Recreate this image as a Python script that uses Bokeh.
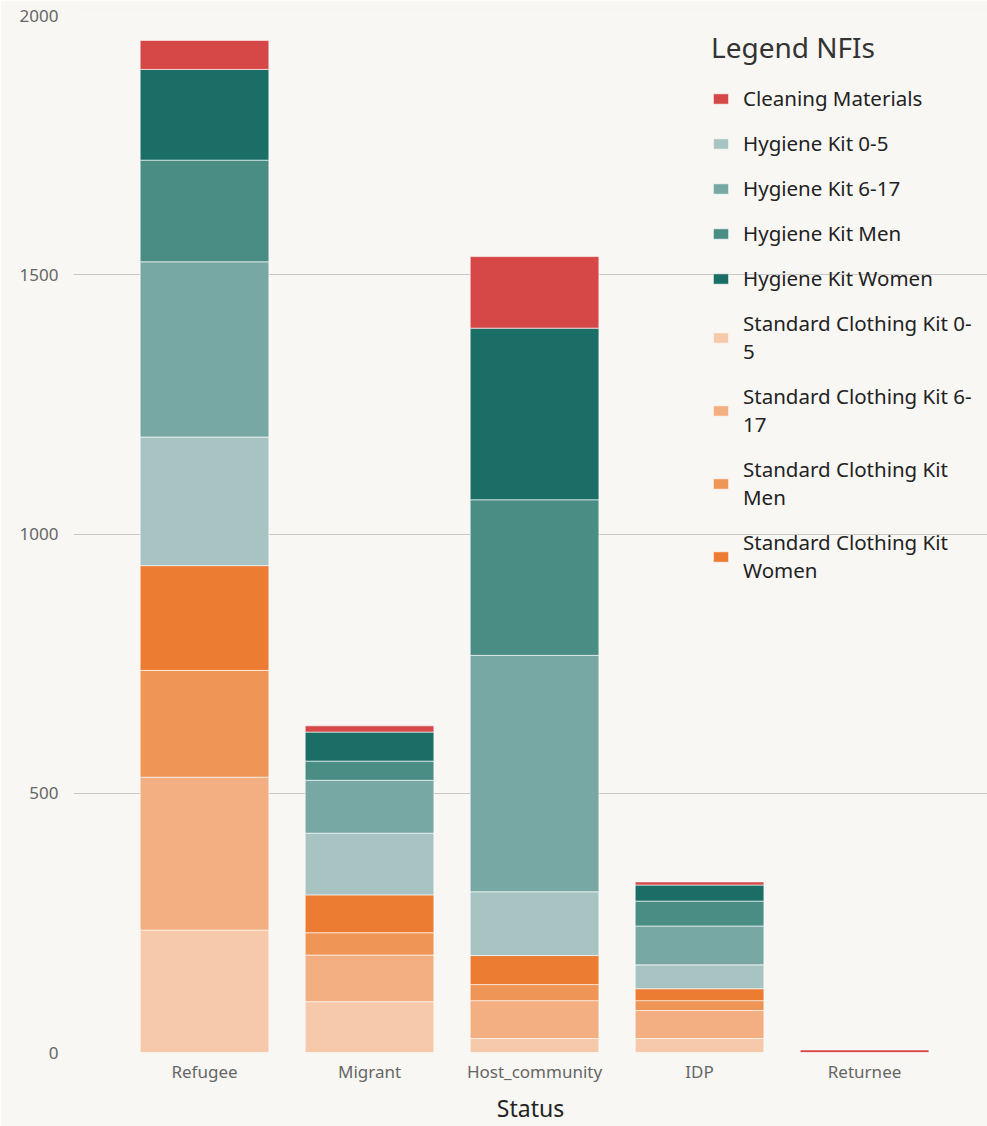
from bokeh.plotting import figure
from bokeh.models import Range1d, FixedTicker, Legend, LegendItem, ColumnDataSource
from bokeh.embed import file_html
from bokeh.resources import INLINE

# ---- data ----
statuses = ["Refugee", "Migrant", "Host_community", "IDP", "Returnee"]
sck_0_5 = [236, 98, 27, 27, 0]
sck_6_17 = [295, 90, 73, 54, 0]
sck_men = [206, 43, 31, 19, 0]
sck_women = [202, 73, 56, 23, 0]
hk_0_5 = [248, 119, 123, 46, 0]
hk_6_17 = [338, 102, 456, 75, 0]
hk_men = [196, 37, 300, 48, 0]
hk_women = [175, 56, 331, 31, 0]
cleaning = [56, 12, 138, 6, 5]

# stacking order bottom -> top
stack_keys = ["sck_0_5", "sck_6_17", "sck_men", "sck_women",
              "hk_0_5", "hk_6_17", "hk_men", "hk_women", "cleaning"]
stack_labels = ["Standard Clothing Kit 0-\n5", "Standard Clothing Kit 6-\n17",
                "Standard Clothing Kit\nMen", "Standard Clothing Kit\nWomen",
                "Hygiene Kit 0-5", "Hygiene Kit 6-17", "Hygiene Kit Men",
                "Hygiene Kit Women", "Cleaning Materials"]
stack_colors = ["#f7c9ab", "#f3ae82", "#ef9657", "#ec7c32",
                "#a7c4c2", "#78a8a3", "#4a8d85", "#1b6e66", "#d64848"]
legend_order = ["cleaning", "hk_0_5", "hk_6_17", "hk_men", "hk_women",
                "sck_0_5", "sck_6_17", "sck_men", "sck_women"]
y_ticks = [0, 500, 1000, 1500, 2000]

src = ColumnDataSource(dict(
    x=list(range(len(statuses))),
    sck_0_5=sck_0_5, sck_6_17=sck_6_17, sck_men=sck_men, sck_women=sck_women,
    hk_0_5=hk_0_5, hk_6_17=hk_6_17, hk_men=hk_men, hk_women=hk_women,
    cleaning=cleaning,
))

BG = "#f8f7f4"
FONT = "Noto Sans"

p = figure(width=987, height=1126, output_backend="svg", toolbar_location=None,
           x_range=Range1d(-0.794, 4.745), y_range=Range1d(0, 2000),
           min_border_left=73, min_border_right=0, min_border_top=15, min_border_bottom=10)
p.background_fill_color = BG
p.border_fill_color = BG
p.outline_line_color = None

renderers = p.vbar_stack(stack_keys, x="x", width=0.78, source=src,
                         color=stack_colors, line_color="white", line_alpha=0.6, line_width=1)
rmap = dict(zip(stack_keys, renderers))
lmap = dict(zip(stack_keys, stack_labels))

# axes
p.xaxis.ticker = FixedTicker(ticks=list(range(len(statuses))))
p.xaxis.major_label_overrides = {i: s for i, s in enumerate(statuses)}
p.xaxis.axis_label = "Status"
p.xaxis.axis_line_color = None
p.xaxis.major_tick_line_color = None
p.xaxis.minor_tick_line_color = None
p.xaxis.major_tick_out = 0
p.xaxis.minor_tick_out = 0
p.xaxis.major_label_text_font = FONT
p.xaxis.major_label_text_font_size = "17px"
p.xaxis.major_label_text_color = "#666666"
p.xaxis.major_label_standoff = 7
p.xaxis.axis_label_text_font = FONT
p.xaxis.axis_label_text_font_size = "23px"
p.xaxis.axis_label_text_font_style = "normal"
p.xaxis.axis_label_text_color = "#252423"
p.xaxis.axis_label_standoff = 6

p.yaxis.ticker = FixedTicker(ticks=y_ticks)
p.yaxis.axis_line_color = None
p.yaxis.major_tick_line_color = None
p.yaxis.minor_tick_line_color = None
p.yaxis.major_tick_out = 0
p.yaxis.minor_tick_out = 0
p.yaxis.major_label_text_font = FONT
p.yaxis.major_label_text_font_size = "17px"
p.yaxis.major_label_text_color = "#666666"
p.yaxis.major_label_standoff = 15

p.xgrid.grid_line_color = None
p.ygrid.grid_line_color = "#c8c8c8"
p.ygrid.grid_line_width = 1

legend = Legend(
    items=[LegendItem(label=lmap[k], renderers=[rmap[k]]) for k in legend_order],
    location=(638, 468),
    title="Legend NFIs",
    title_text_font=FONT, title_text_font_size="28px", title_text_font_style="normal",
    title_text_color="#333333", title_standoff=18,
    label_text_font=FONT, label_text_font_size="20.5px", label_text_color="#222222",
    label_text_line_height=1.35,
    glyph_width=19, glyph_height=13, label_standoff=13, spacing=17,
    padding=8, margin=0,
    background_fill_alpha=0, border_line_color=None,
)
p.add_layout(legend)

open("out.html", "w").write(file_html(p, INLINE))
